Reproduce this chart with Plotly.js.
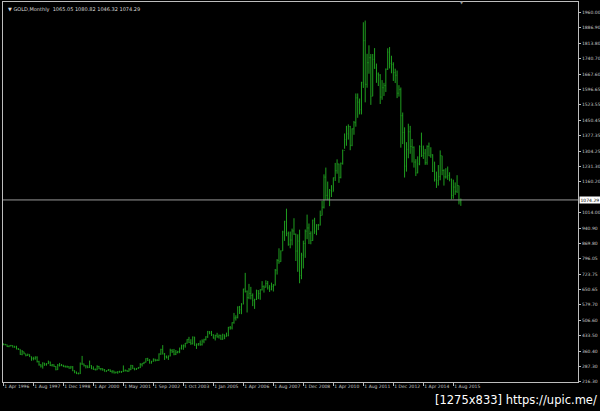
<!DOCTYPE html>
<html>
<head>
<meta charset="utf-8">
<script src="https://cdn.plot.ly/plotly-3.0.1.min.js"></script>
<style>html,body{margin:0;padding:0;background:#000;}#chart{width:600px;height:411px;}</style>
</head>
<body>
<div id="chart"></div>
<script>
// Monthly GOLD bars (index positions as shown on the MT4 chart)
const openP = [395.5,392,391,382,385.5,387,379,379,371,
369,345,358,348,340,345,334,326,325,332,311,296,
290,304,297,301,309,293,296,288,273,294,292,294,
288,287,287,280,286,268,262,255,254,300,300,292,
290,283,293,
277,274,272,288,277,278,273,264,269,273,265,267,258,261,263,262,
264,267,270,265,273,293,278,275,279,282,297,303,308,326,318,304,
312,323,316,317,347,368,347,334,330,337,364,358,346,354,358,375,
385,386,398,416,402,396,427,388,393,395,391,408,415,428,452,446,
438,422,435,428,435,417,437,429,433,473,470,495,517,520,569,556,
582,654,643,613,633,623,599,604,646,632,650,665,662,680,659,650,
665,672,743,789,783,834,923,971,916,865,885,928,913,833,880,718,
814,869,927,942,916,883,979,927,955,955,1001,1040,1182,1096,1081,1118,
1113,1179,1212,1244,1181,1247,1308,1359,1386,1421,1332,1410,1439,1556,1536,1500,
1628,1826,1620,1722,1746,1564,1738,1697,1669,1664,1560,1604,1614,1691,1772,1719,
1713,1675,1663,1578,1595,1472,1393,1234,1313,1396,1327,1323,1253,1202,1244,1326,
1284,1295,1250,1327,1282,1287,1210,1171,1167,1184,1283,1213,1183,1183,1190,1172,
1095,1135,1115,1142,1065.05];
const highP = [397,395,391.5,388,390,388,386,386,375,
369,366,358,348,349,345,335,334,336,336,315,299,
308,305,304,316,311,300,298,290,300,305,300,296,
293,292,290,291,290,270,264,260,307,338,302,294,
293,316,294,
289,279,294,291,281,279,276,270,276,274,270,268,264,266,268,267,
293,274,271,281,296,294,282,281,286,304,304,310,327,329,323,315,
326,324,323,350,372,389,352,340,340,372,370,371,366,362,377,391,
392,399,417,428,417,430,428,397,399,411,416,419,431,456,455,456,
440,438,447,439,438,443,439,448,475,479,497,541,530,572,574,587,
655,730,647,678,664,633,608,651,648,653,691,671,695,692,672,684,
677,748,795,846,836,929,976,1033,925,925,939,988,915,912,934,825,
882,935,1005,963,926,981,990,960,961,1024,1070,1195,1227,1161,1126,1144,
1180,1249,1266,1246,1251,1312,1388,1424,1431,1424,1412,1447,1577,1577,1553,1632,
1913,1921,1764,1804,1763,1763,1791,1718,1676,1668,1640,1627,1695,1790,1796,1755,
1724,1694,1685,1616,1605,1487,1417,1347,1434,1424,1362,1327,1267,1280,1332,1392,
1331,1315,1332,1345,1323,1290,1255,1208,1239,1308,1283,1219,1224,1232,1205,1175,
1170,1157,1191,1142,1080.82];
const lowP = [388,388,380,379,383,378,378,369,366,
343,341,346,336,338,333,315,317,320,307,292,283,
278,291,292,300,290,288,286,270,272,288,290,285,
283,282,278,278,266,256,252,251,253,296,288,279,
280,282,276,
273,270,271,276,270,268,264,263,267,262,256,255,256,254,259,258,
263,265,263,264,271,277,270,272,277,281,288,299,307,314,302,302,
311,312,315,315,343,345,319,326,319,336,352,341,342,350,351,368,
367,377,396,399,390,392,386,371,386,386,387,398,411,423,440,432,
420,411,424,420,414,414,417,429,431,462,463,490,505,515,536,535,
582,637,543,606,605,573,560,602,606,603,647,637,661,651,640,648,
642,670,722,773,782,834,881,903,858,846,860,909,786,735,681,700,
751,801,889,866,865,881,914,908,932,954,1001,1034,1075,1073,1045,1088,
1114,1164,1198,1155,1176,1241,1316,1330,1359,1309,1328,1382,1420,1462,1478,1478,
1603,1535,1604,1670,1523,1564,1693,1627,1612,1527,1547,1565,1584,1688,1695,1672,
1636,1626,1555,1562,1321,1338,1180,1208,1271,1292,1251,1227,1187,1200,1238,1277,
1268,1240,1240,1281,1273,1206,1161,1131,1142,1167,1191,1142,1175,1169,1162,1077,
1080,1098,1107,1053,1046.32];
const closeP = [392,391,382,385.5,387,379,379,371,369,
345,358,348,340,345,334,326,325,332,311,296,290,
304,297,301,309,293,296,288,273,294,292,294,288,
287,287,280,286,268,262,255,254,300,300,292,290,
283,293,277,
274,272,288,277,278,273,264,269,273,265,267,258,261,263,262,264,
267,270,265,273,293,278,275,279,282,297,303,308,326,318,304,312,
323,316,317,347,368,347,334,330,337,364,358,346,354,358,375,385,
386,398,416,402,396,427,388,393,395,391,408,415,428,452,446,438,
422,435,428,435,417,437,429,433,473,470,495,517,520,569,556,582,
654,643,613,633,623,599,604,646,632,650,665,662,680,659,650,665,
672,743,789,783,834,923,971,916,865,885,928,913,833,880,718,814,
869,927,942,916,883,979,927,955,955,1001,1040,1182,1096,1081,1118,1113,
1179,1212,1244,1181,1247,1308,1359,1386,1421,1332,1410,1439,1556,1536,1500,1628,
1826,1620,1722,1746,1564,1738,1697,1669,1664,1560,1604,1614,1691,1772,1719,1713,
1675,1663,1578,1595,1472,1393,1234,1313,1396,1327,1323,1253,1202,1244,1326,1284,
1295,1250,1327,1282,1287,1210,1171,1167,1184,1283,1213,1183,1183,1190,1172,1095,
1135,1115,1142,1065,1074.29];

const xTickIdx = [0,16,32,48,64,80,96,112,128,144,160,176,192,208,224,240];
const xTickLabels = ["1 Apr 1996","1 Aug 1997","1 Dec 1998","1 Apr 2000","1 May 2001","1 Sep 2002",
  "1 Oct 2003","1 Jan 2005","1 Apr 2006","1 Aug 2007","1 Dec 2008","1 Apr 2010","1 Aug 2011",
  "1 Dec 2012","1 Apr 2014","1 Aug 2015"];
// 1087.10 sits under the last-price box in the reference and is not shown here
const yTickVals = [1960.00,1886.90,1813.80,1740.70,1667.60,1596.65,1523.55,1450.45,1377.35,1304.25,
  1231.30,1160.20,1014.00,940.90,869.80,796.05,723.75,650.65,579.70,506.60,433.50,360.40,287.30,216.30];
const lastPrice = 1074.29;
const titleText = "\u25BC GOLD,Monthly  1065.05 1080.82 1046.32 1074.29";

const xIdx = closeP.map((_, i) => i);
const barColor = '#1f9e1f';
const axisColor = '#bdbdbd';
const tickFont = {family: 'DejaVu Sans', size: 4.5, color: '#c8c8c8'};

const trace = {
  type: 'ohlc',
  x: xIdx, open: openP, high: highP, low: lowP, close: closeP,
  increasing: {line: {color: barColor, width: 1}},
  decreasing: {line: {color: barColor, width: 1}},
  tickwidth: 0.3,
  hoverinfo: 'skip'
};

const layout = {
  width: 600, height: 411,
  margin: {l: 3, r: 22, t: 2, b: 29, pad: 0},
  paper_bgcolor: '#000', plot_bgcolor: '#000',
  showlegend: false,
  xaxis: {
    range: [-0.2, 306.5], rangeslider: {visible: false},
    tickmode: 'array', tickvals: xTickIdx, ticktext: xTickLabels,
    ticks: 'outside', ticklen: 3, tickcolor: axisColor, tickwidth: 1,
    ticklabelposition: 'outside right', tickangle: 0,
    tickfont: tickFont, showgrid: false, zeroline: false,
    showline: true, linecolor: axisColor, linewidth: 1, mirror: true,
    fixedrange: true
  },
  yaxis: {
    side: 'right', range: [214.9, 2008.6],
    tickmode: 'array', tickvals: yTickVals, ticktext: yTickVals.map(v => v.toFixed(2)),
    ticks: 'outside', ticklen: 2, tickcolor: axisColor, tickwidth: 1,
    tickfont: tickFont, showgrid: false, zeroline: false,
    showline: true, linecolor: axisColor, linewidth: 1, mirror: true,
    fixedrange: true
  },
  shapes: [{
    type: 'line', xref: 'paper', x0: 0, x1: 1, yref: 'y', y0: lastPrice, y1: lastPrice,
    line: {color: '#9a9a9a', width: 1}
  }],
  annotations: [
    {xref: 'paper', yref: 'y', x: 1, xanchor: 'left', xshift: 1, y: lastPrice, yanchor: 'middle',
     text: lastPrice.toFixed(2), showarrow: false, bgcolor: '#ffffff', borderpad: 0.5,
     font: {family: 'DejaVu Sans', size: 4.5, color: '#000'}},
    {xref: 'paper', yref: 'paper', x: 0, xanchor: 'left', xshift: 3, y: 1, yanchor: 'top', yshift: -2,
     text: titleText, showarrow: false, font: {family: 'DejaVu Sans', size: 5, color: '#d8d8d8'}},
    {xref: 'x', yref: 'paper', x: 244.5, xanchor: 'center', y: 1, yanchor: 'middle',
     text: '\u25BC', showarrow: false, font: {family: 'DejaVu Sans', size: 4, color: '#9a9a9a'}},
    {xref: 'paper', yref: 'paper', x: 1, xanchor: 'right', xshift: 21, y: 0, yanchor: 'middle', yshift: -18,
     text: '[1275x833] https://upic.me/', showarrow: false,
     font: {family: 'DejaVu Sans', size: 11.5, color: '#ffffff'}}
  ]
};

Plotly.newPlot('chart', [trace], layout, {displayModeBar: false, staticPlot: true});
</script>
</body>
</html>
